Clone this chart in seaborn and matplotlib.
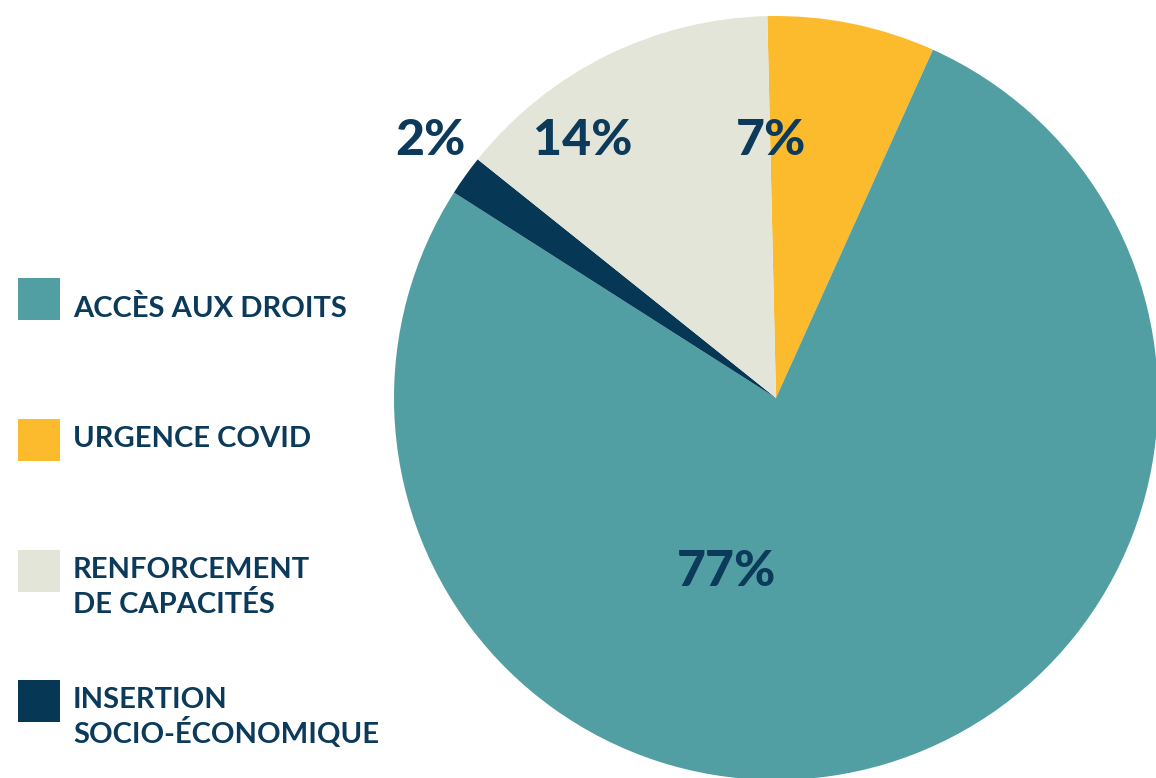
import matplotlib
matplotlib.use("Agg")
import matplotlib.pyplot as plt
import seaborn as sns
from matplotlib.patches import Rectangle

# data (clockwise from the top of the pie)
categories = ["URGENCE COVID", "ACCÈS AUX DROITS", "INSERTION\nSOCIO-ÉCONOMIQUE",
              "RENFORCEMENT\nDE CAPACITÉS"]
shares = [7.1, 77.3, 1.7, 13.9]
pct_labels = ["7%", "77%", "2%", "14%"]
colors = ["#fbbb2c", "#529fa3", "#063755", "#e3e5d8"]

# legend order as in the reference
legend_order = [1, 0, 3, 2]

text_col = "#0b3a5a"

sns.set_theme(style="white")
plt.rcParams["font.family"] = ["Lato", "DejaVu Sans"]

W, H = 1156, 778
fig = plt.figure(figsize=(W / 100, H / 100), dpi=100)
ax = fig.add_axes([0, 0, 1, 1])

# pie drawn in pixel-like data units so the circle matches the reference
wedges, _ = ax.pie(shares, colors=colors, startangle=91.3, counterclock=False,
                   center=(776, H - 398), radius=382,
                   wedgeprops=dict(linewidth=0))
ax.set_xlim(0, W)
ax.set_ylim(0, H)
ax.set_aspect("auto")
ax.axis("off")

# percentage labels (positions in pixels from the top left)
label_pos = [(771, 140), (727, 572), (430, 140), (583, 140)]
for txt, (x, y) in zip(pct_labels, label_pos):
    ax.text(x, H - y, txt, ha="center", va="center", fontsize=36,
            fontweight="black", color=text_col)

# hand-placed legend: square tops and first-line baselines in pixels
sq_tops = [278, 419, 550, 680]
baselines = [317, 447, 578, 708]
sq = 42
for k, i in enumerate(legend_order):
    fig.add_artist(Rectangle((18 / W, 1 - (sq_tops[k] + sq) / H), sq / W, sq / H,
                             transform=fig.transFigure, facecolor=colors[i],
                             edgecolor="none"))
    for j, line in enumerate(categories[i].split("\n")):
        fig.text(73 / W, 1 - (baselines[k] + 35 * j) / H, line, ha="left",
                 va="baseline", fontsize=21, fontweight="bold", color=text_col)

fig.savefig("out.png", dpi=100)
